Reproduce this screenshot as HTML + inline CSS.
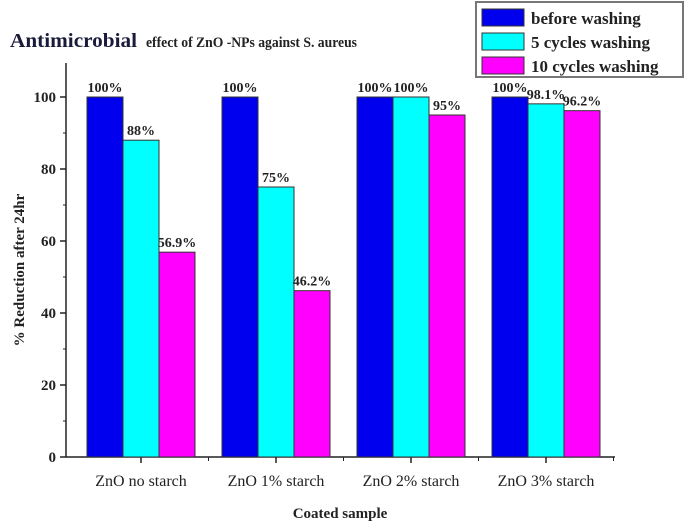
<!DOCTYPE html>
<html><head><meta charset="utf-8"><style>
body{margin:0;background:#fff;}
svg{display:block;}
text{font-family:"Liberation Serif","DejaVu Serif",serif;}
</style></head><body>
<svg id="chart" width="685" height="527" xmlns="http://www.w3.org/2000/svg" font-family="Liberation Serif, serif">
<text x="10" y="47" font-weight="bold" font-family="Liberation Serif, serif"><tspan font-size="20" fill="#1a1a3a" textLength="127" lengthAdjust="spacingAndGlyphs">Antimicrobial</tspan><tspan x="146" font-size="15" fill="#222" textLength="211" lengthAdjust="spacingAndGlyphs">effect  of ZnO -NPs against S. aureus</tspan></text>
<g id="axes"></g>
<g id="bars"></g>
<g id="legend"></g>
<text transform="translate(24,270) rotate(-90)" text-anchor="middle" font-size="15" font-weight="bold" fill="#222" font-family="Liberation Serif, serif">% Reduction after 24hr</text>
<text x="340" y="518" text-anchor="middle" font-size="15" font-weight="bold" fill="#222" font-family="Liberation Serif, serif">Coated sample</text>
</svg>
<script>
const categories = ["ZnO no starch","ZnO 1% starch","ZnO 2% starch","ZnO 3% starch"];
const seriesNames = ["before washing","5 cycles washing","10 cycles washing"];
const beforeWashing = [100,100,100,100];
const cycles5 = [88,75,100,98.1];
const cycles10 = [56.9,46.2,95,96.2];
const valueLabels5 = ["88%","75%","100%","98.1%"];
const valueLabels10 = ["56.9%","46.2%","95%","96.2%"];
const valueLabelsBefore = ["100%","100%","100%","100%"];
const yTicks = [0,20,40,60,80,100];

const NS="http://www.w3.org/2000/svg";
const FF="Liberation Serif, serif";
const colors=["#0000ee","#00ffff","#ff00ff"];
const x0=66,x1=615,y0=457,yTop=97;
const yScale=v=>y0-(v/100)*(y0-yTop);
const step=135, first=141, bw=36;
const xCenter=i=>first+i*step;
function mk(tag,attrs,parent){const e=document.createElementNS(NS,tag);for(const k in attrs)e.setAttribute(k,attrs[k]);if(tag==='text')e.setAttribute('font-family',FF);parent.appendChild(e);return e;}
const axes=document.getElementById('axes'),bars=document.getElementById('bars'),legend=document.getElementById('legend');

const series=[beforeWashing,cycles5,cycles10];
const labels=[valueLabelsBefore,valueLabels5,valueLabels10];
series.forEach((arr,s)=>{
  arr.forEach((v,i)=>{
    const bx=xCenter(i)-1.5*bw+s*bw;
    const r=mk('rect',{x:bx,y:yScale(v),width:bw,height:y0-yScale(v),fill:colors[s],stroke:"#333","stroke-width":1},bars);
    
    
    const t=mk('text',{x:bx+bw/2,y:yScale(v)-5,"text-anchor":"middle","font-size":14,"font-weight":"bold",fill:"#222"},bars);
    t.textContent=labels[s][i];
    
    
  });
});

const ya=mk('line',{x1:x0,y1:63,x2:x0,y2:y0,stroke:"#222","stroke-width":1.5},axes);


const xa=mk('line',{x1:x0,y1:y0,x2:x1,y2:y0,stroke:"#222","stroke-width":1.5},axes);


yTicks.forEach(v=>{
  const y=yScale(v);
  mk('line',{x1:x0-6,y1:y,x2:x0,y2:y,stroke:"#222","stroke-width":1.5},axes);
  if(v<100)mk('line',{x1:x0-3,y1:yScale(v+10),x2:x0,y2:yScale(v+10),stroke:"#222","stroke-width":1},axes);
  const t=mk('text',{x:x0-10,y:y+5,"text-anchor":"end","font-size":15,"font-weight":"bold",fill:"#222"},axes);
  t.textContent=v;
  
  
});
categories.forEach((c,i)=>{
  const x=xCenter(i);
  mk('line',{x1:x,y1:y0,x2:x,y2:y0+6,stroke:"#222","stroke-width":1.5},axes);
  mk('line',{x1:x+step/2,y1:y0,x2:x+step/2,y2:y0+4,stroke:"#222","stroke-width":1},axes);
  const t=mk('text',{x:x,y:y0+29,"text-anchor":"middle","font-size":16,fill:"#222"},axes);
  t.textContent=c;
  
  
});

mk('rect',{x:476,y:2,width:207,height:75,fill:"#fff",stroke:"#777","stroke-width":2},legend);
seriesNames.forEach((n,s)=>{
  const y=9+s*24;
  const r=mk('rect',{x:482,y:y,width:42,height:17,fill:colors[s],stroke:"#333","stroke-width":1},legend);
  
  
  const t=mk('text',{x:531,y:y+15,"font-size":17,"font-weight":"bold",fill:"#222"},legend);
  t.textContent=n;
  
  
});
</script>
</body></html>
